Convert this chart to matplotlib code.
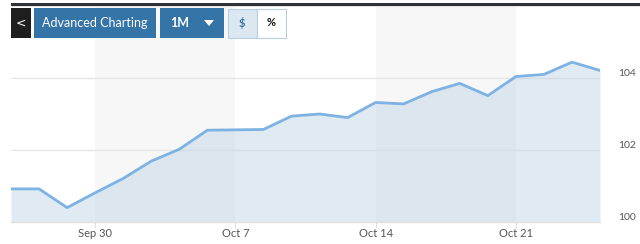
import matplotlib
matplotlib.use("Agg")
import matplotlib.pyplot as plt
from matplotlib.patches import Rectangle, Polygon
from matplotlib.transforms import ScaledTranslation
import numpy as np

dates = ["Sep 25", "Sep 26", "Sep 27", "Sep 30", "Oct 1", "Oct 2", "Oct 3", "Oct 4",
         "Oct 7", "Oct 8", "Oct 9", "Oct 10", "Oct 11", "Oct 14", "Oct 15", "Oct 16",
         "Oct 17", "Oct 18", "Oct 21", "Oct 22", "Oct 23", "Oct 24"]
values = [100.92, 100.92, 100.40, 100.81, 101.21, 101.69, 102.02, 102.55,
          102.56, 102.57, 102.94, 103.00, 102.90, 103.32, 103.28, 103.62,
          103.85, 103.51, 104.04, 104.10, 104.44, 104.21]
tick_labels = ["Sep 30", "Oct 7", "Oct 14", "Oct 21"]
y_ticks = [100, 102, 104]

W, H = 640, 244
fig = plt.figure(figsize=(W / 100, H / 100), dpi=100)
fig.patch.set_facecolor("white")

def fx(px):
    return px / W

def fy(py):
    return 1 - py / H

ax_l, ax_r, ax_t, ax_b = 11, 600, 5, 222
ax = fig.add_axes([fx(ax_l), fy(ax_b), (ax_r - ax_l) / W, (ax_b - ax_t) / H])
x = np.arange(len(values))
ax.set_xlim(0, len(values) - 1)
ax.set_ylim(100, 100 + (ax_b - ax_t) / 36.0)

# weekly alternating shading
for a, b in [(3, 8), (13, 18)]:
    ax.axvspan(a, b, color="#f7f7f7", zorder=0, lw=0)

for yv in [102, 104]:
    ax.axhline(yv, color="#e6e6e6", lw=1.0, zorder=1)

ax.fill_between(x, values, 100, color="#c5d9e8", alpha=0.55, lw=0, zorder=2)
ax.plot(x, values, color="#7eb2e3", lw=2.0, zorder=3, solid_joinstyle="round")

for s in ["top", "left", "right"]:
    ax.spines[s].set_visible(False)
ax.spines["bottom"].set_color("#e0e0e0")
ax.spines["bottom"].set_linewidth(1.0)

ax.set_xticks([dates.index(t) for t in tick_labels])
ax.set_xticklabels(tick_labels, fontfamily="Lato", fontsize=8, color="#555555")
ax.tick_params(axis="x", length=4, color="#e0e0e0", pad=0.5)

ax.yaxis.tick_right()
ax.set_yticks(y_ticks)
ax.set_yticklabels([str(v) for v in y_ticks], fontfamily="Lato", fontsize=7.5, color="#555555")
ax.tick_params(axis="y", length=0, pad=13)
off = ScaledTranslation(0, 6 / 100, fig.dpi_scale_trans)
for lab in ax.get_yticklabels():
    lab.set_transform(lab.get_transform() + off)
ax.set_facecolor("none")

# top dark bar
fig.patches.append(Rectangle((fx(11), fy(6)), 1 - fx(11), 3 / H, transform=fig.transFigure,
                             facecolor="#2e3236", edgecolor="none", zorder=5))
fig.patches.append(Rectangle((fx(11), fy(7)), 1 - fx(11), 1 / H, transform=fig.transFigure,
                             facecolor="#e4e4e4", edgecolor="none", zorder=5))

def button(x0, x1, y0, y1, fc, ec=None):
    fig.patches.append(Rectangle((fx(x0), fy(y1)), (x1 - x0) / W, (y1 - y0) / H,
                                 transform=fig.transFigure, facecolor=fc,
                                 edgecolor=ec if ec else "none", lw=0.8 if ec else 0, zorder=6))

button(11, 31, 8, 38, "#1e1e1e")
fig.text(fx(21), fy(23), "<", color="white", fontsize=9, fontfamily="DejaVu Sans",
         ha="center", va="center", zorder=7)
button(34, 156, 8, 38, "#3574a6")
fig.text(fx(95), fy(23), "Advanced Charting", color="white", fontsize=9, fontfamily="Lato",
         ha="center", va="center", zorder=7)
button(160, 224, 8, 38, "#3574a6")
fig.text(fx(180), fy(23), "1M", color="white", fontsize=9, fontfamily="Lato",
         fontweight="bold", ha="center", va="center", zorder=7)
fig.patches.append(Polygon([(fx(204), fy(20)), (fx(214), fy(20)), (fx(209), fy(26))],
                           closed=True, transform=fig.transFigure, facecolor="white",
                           edgecolor="none", zorder=7))
button(227.5, 257, 8.5, 38, "#dbe7f1", "#b9cfe2")
fig.text(fx(242), fy(23), "$", color="#3574a6", fontsize=8, fontfamily="Lato",
         fontweight="bold", ha="center", va="center", zorder=7)
button(257, 286, 8.5, 38, "white", "#b9cfe2")
fig.text(fx(271.5), fy(23), "%", color="#111111", fontsize=8, fontfamily="Lato",
         fontweight="bold", ha="center", va="center", zorder=7)

fig.savefig("out.png", dpi=100, facecolor="white")
